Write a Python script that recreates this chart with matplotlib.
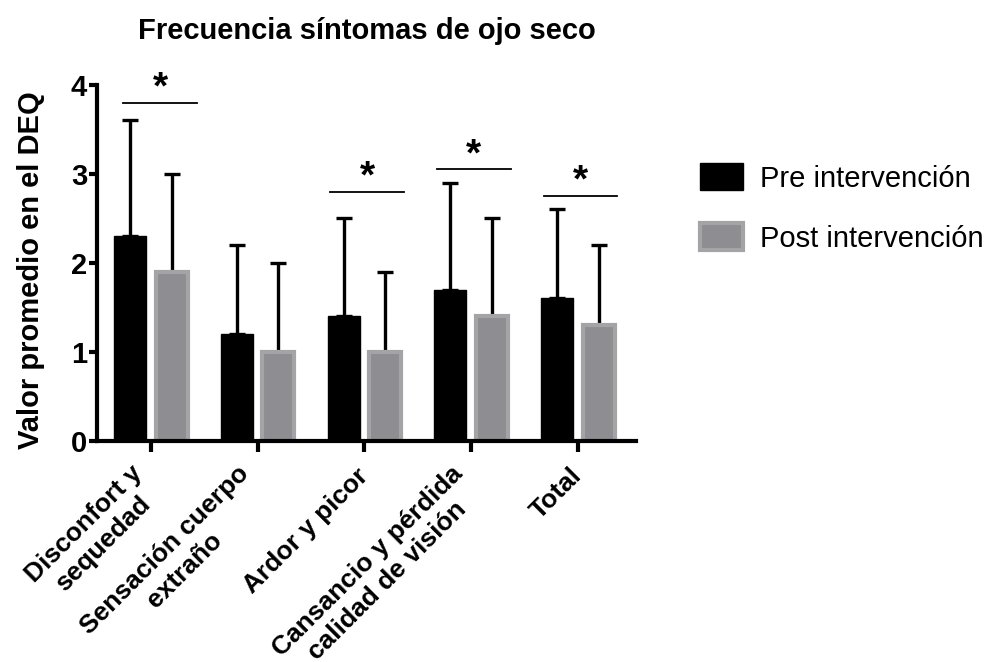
import matplotlib
matplotlib.use('Agg')
import matplotlib.pyplot as plt
import matplotlib.transforms as mtrans
import numpy as np

plt.rcParams['font.family'] = ['Liberation Sans', 'DejaVu Sans']

categories = ['Disconfort y\nsequedad', 'Sensación cuerpo\nextraño', 'Ardor y picor',
              'Cansancio y pérdida\ncalidad de visión', 'Total']
pre = [2.3, 1.2, 1.4, 1.7, 1.6]
post = [1.9, 1.0, 1.0, 1.4, 1.3]
pre_sd = [1.3, 1.0, 1.1, 1.2, 1.0]
post_sd = [1.1, 1.0, 0.9, 1.1, 0.9]
# height of the significance line per group (None = not significant)
sig_height = [3.8, None, 2.8, 3.05, 2.75]

x = np.arange(len(categories))
w = 0.3
off = 0.195

fig = plt.figure(figsize=(9.89, 6.62), dpi=100)
ax = fig.add_axes([0.098, 0.334, 0.545, 0.538])

ax.bar(x - off, pre, w, color='black', edgecolor='black', linewidth=1, zorder=2,
       label='Pre intervención')
ax.bar(x + off, post, w, color='#8e8d92', edgecolor='#a4a4a7', linewidth=3, zorder=2,
       label='Post intervención')
ax.errorbar(x - off, pre, yerr=[np.zeros(len(pre)), pre_sd], fmt='none', ecolor='black',
            elinewidth=2.4, capsize=5.5, capthick=2.4, zorder=1)
ax.errorbar(x + off, post, yerr=[np.zeros(len(post)), post_sd], fmt='none', ecolor='black',
            elinewidth=2.4, capsize=5.5, capthick=2.4, zorder=1)

for i, (xi, h) in enumerate(zip(x, sig_height)):
    if h is None:
        continue
    s = 0.06 if i == 0 else 0.0
    ax.plot([xi - 0.32 + s, xi + 0.37 + s], [h, h], color='black', lw=1.3)
    ax.text(xi + 0.025 + s, h + 0.16, '*', ha='center', va='center', fontsize=28,
            fontweight='bold')

ax.set_xlim(-0.506, 4.545)
ax.set_ylim(0, 4)
ax.set_yticks([0, 1, 2, 3, 4])
ax.set_yticklabels(['0', '1', '2', '3', '4'], fontsize=21, fontweight='bold')
ax.set_xticks(x)
ax.set_xticklabels(categories, rotation=45, ha='right', va='top', rotation_mode='anchor',
                   multialignment='center', fontsize=19, fontweight='bold')

ax.spines['top'].set_visible(False)
ax.spines['right'].set_visible(False)
ax.spines['left'].set_linewidth(3)
ax.spines['bottom'].set_linewidth(3)
ax.tick_params(axis='y', length=6, width=3, pad=1)
ax.tick_params(axis='x', length=8, width=3, pad=9)

# nudge the labels the way the original software places them
for lab in ax.get_xticklabels():
    if '\n' in lab.get_text():
        dx, dy = -0.21, 0.03
    else:
        dx, dy = -0.08, 0.01
    lab.set_transform(lab.get_transform() + mtrans.ScaledTranslation(dx, dy, fig.dpi_scale_trans))

ax.set_ylabel('Valor promedio en el DEQ', fontsize=21, fontweight='bold', labelpad=19)
ax.yaxis.label.set_y(0.48)
ax.set_title('Frecuencia síntomas de ojo seco', fontsize=21, fontweight='bold', pad=33)

ax.legend(loc='upper left', bbox_to_anchor=(1.071, 0.853), frameon=False, fontsize=21,
          handlelength=1.45, handleheight=1.05, labelspacing=1.04, handletextpad=0.6)

fig.savefig('out.png', dpi=100)
